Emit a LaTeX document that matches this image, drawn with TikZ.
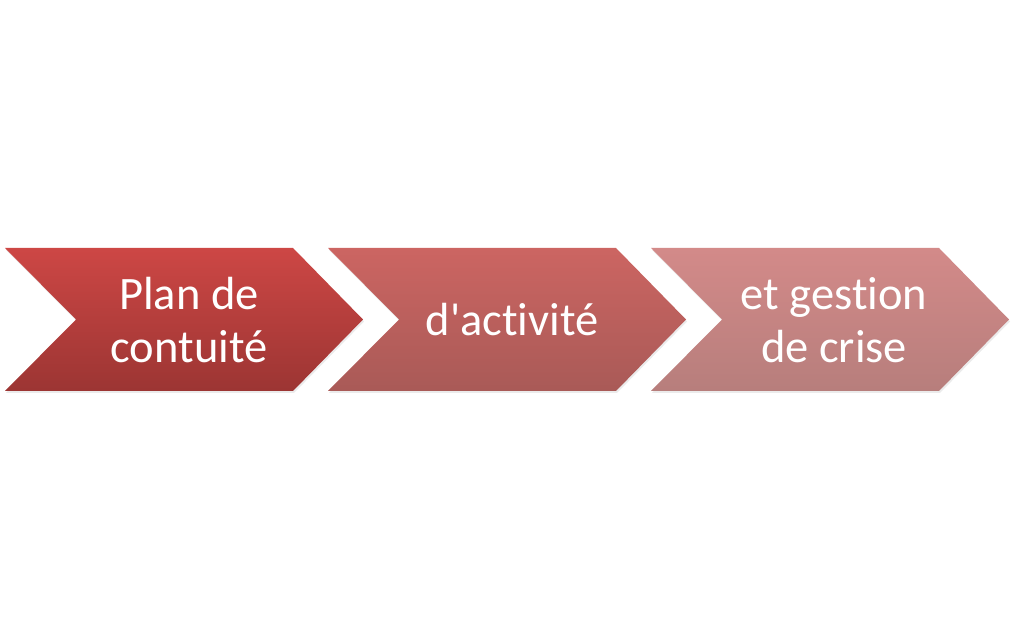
\documentclass[tikz,border=0pt]{standalone}
\usepackage{fontspec}
\setmainfont{Carlito}[Ligatures={NoCommon}]
\usepackage{xcolor}

\definecolor{chevtop1}{HTML}{CD4745}
\definecolor{chevbot1}{HTML}{9C3533}
\definecolor{chevtop2}{HTML}{CC6562}
\definecolor{chevbot2}{HTML}{A95A57}
\definecolor{chevtop3}{HTML}{D38A89}
\definecolor{chevbot3}{HTML}{B77E7C}

\begin{document}
\begin{tikzpicture}[x=1pt, y=1pt]
    \tikzstyle{chev} = [line join=miter]
    \tikzstyle{shadow} = [fill=black, opacity=0.08]
    \tikzstyle{steptext} = [text=white, align=center, font=\fontsize{46.5}{53}\selectfont]
    \useasboundingbox (0,0) rectangle (1013,640);
    \foreach \i/\x in {1/5, 2/328, 3/651} {
        \fill[shadow] (\x+1,390) -- ++(288,0) -- ++(70,-71.5) -- ++(-70,-71.5)
            -- ++(-288,0) -- ++(71,71.5) -- cycle;
        \shade[chev, top color=chevtop\i, bottom color=chevbot\i]
            (\x,392) -- ++(288,0) -- ++(70,-71.5) -- ++(-70,-71.5)
            -- ++(-288,0) -- ++(71,71.5) -- cycle;
    }
    \node [steptext] at (189,320) (plan) {Plan de\\contuité};
    \node [steptext] at (512,320) (activite) {d\textquotesingle activité};
    \node [steptext] at (834,320) (crise) {et gestion\\de crise};
\end{tikzpicture}
\end{document}
